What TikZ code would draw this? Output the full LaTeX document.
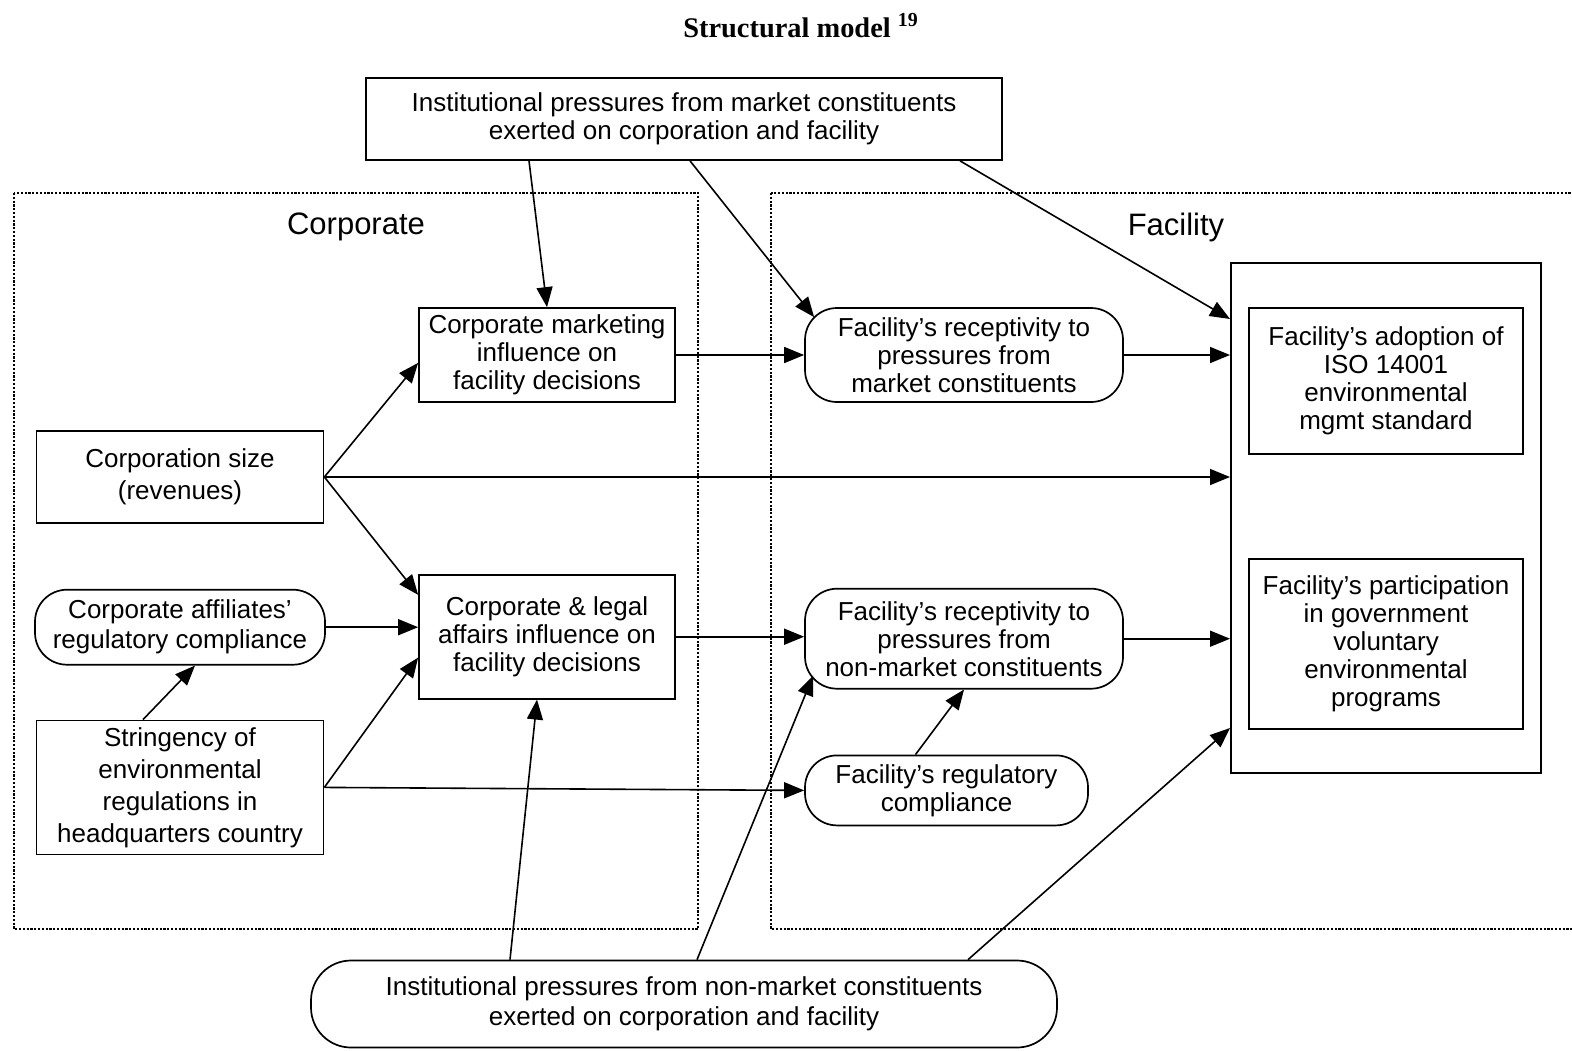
\documentclass[tikz,border=0pt]{standalone}
\usepackage{fontspec}
\setmainfont{Liberation Sans}
\newfontfamily\titlefont{Liberation Serif}
\usepackage{tikz}
\usetikzlibrary{positioning,arrows.meta,calc}
\tikzset{
  base/.style  ={draw, line width=0.85pt, align=center, inner sep=0pt,
                 font=\fontsize{13}{14}\selectfont, text=black},
  box/.style   ={base},
  pill/.style  ={base, rounded corners=16pt},
  loose/.style ={font=\fontsize{13}{16}\selectfont},
  arr/.style   ={-{Triangle[length=10pt,width=8pt]}, line width=0.8pt},
  zone/.style  ={line width=1.2pt, dash pattern=on 1.1pt off 0.8pt},
  ttl/.style   ={font=\titlefont\bfseries\fontsize{14.2}{16}\selectfont},
  lbl/.style   ={font=\fontsize{15.5}{17}\selectfont},
}

\begin{document}
\begin{tikzpicture}[x=0.5pt, y=-0.5pt]
  \useasboundingbox (0,0) rectangle (1572,1050);

  % ---- title ----
  \node[ttl, anchor=base] (title) at (801,37) {Structural model \textsuperscript{19}};

  % ---- dotted zones ----
  \draw[zone] (14,193) rectangle (698,929);
  \draw[zone] (771,193) rectangle (1590,929);
  \node[lbl] (corp) at (356,227) {Corporate};
  \node[lbl] (fac) at (1176,227) {Facility};

  % ---- institutional pressures ----
  \node[box, minimum width=318pt, minimum height=41pt] (mktp) at (684,119)
    {Institutional pressures from market constituents\\exerted on corporation and facility};
  \node[pill, rounded corners=20pt, minimum width=373pt, minimum height=43.5pt,
        font=\fontsize{13}{15}\selectfont] (nonp) at (684,1004)
    {Institutional pressures from non-market constituents\\exerted on corporation and facility};

  % ---- corporate side ----
  \node[box, loose, minimum width=143.5pt, minimum height=46pt] (csize) at (180,477)
    {Corporation size\\(revenues)};
  \node[pill, minimum width=145pt, minimum height=37.5pt,
        font=\fontsize{13}{15}\selectfont, below=32.5pt of csize] (caff)
    {Corporate affiliates’\\regulatory compliance};
  \node[box, loose, minimum width=143.5pt, minimum height=67pt, below=27pt of caff] (cstr)
    {Stringency of\\environmental\\regulations in\\headquarters country};

  \node[box, minimum width=128pt, minimum height=47pt] (cmkt) at (547,355)
    {Corporate marketing\\influence on\\facility decisions};
  \node[box, minimum width=128pt, minimum height=62pt, below=85.5pt of cmkt] (clegal)
    {Corporate \& legal\\affairs influence on\\facility decisions};

  % ---- facility side ----
  \node[pill, minimum width=159pt, minimum height=47pt] (frmkt) at (964,355)
    {Facility’s receptivity to\\pressures from\\market constituents};
  \node[pill, minimum width=159pt, minimum height=50pt, below=92.5pt of frmkt] (frnon)
    {Facility’s receptivity to\\pressures from\\non-market constituents};
  \node[pill, minimum width=141.5pt, minimum height=35pt,
        below=32.5pt of frnon.south west, anchor=north west] (freg)
    {Facility’s regulatory\\compliance};

  % ---- outcomes ----
  \node[box, line width=1pt, minimum width=155pt, minimum height=255pt] (outcome) at (1386,518) {};
  \node[box, minimum width=137pt, minimum height=73pt] (iso) at (1386,381)
    {Facility’s adoption of\\ISO 14001\\environmental\\mgmt standard};
  \node[box, minimum width=137pt, minimum height=85pt] (gov) at (1386,644)
    {Facility’s participation\\in government\\voluntary\\environmental\\programs};

  % ---- edges ----
  \draw[arr] ($(mktp.south)+(-155,0)$) -- (cmkt.north);
  \draw[arr] ($(mktp.south)+(6,0)$) -- ($(frmkt.north west)+(10,10)$);
  \draw[arr] ($(mktp.south)+(276,0)$) -- ($(outcome.north west)+(0,57)$);
  \draw[arr] (cmkt.east) -- (frmkt.west);
  \draw[arr] (frmkt.east) -- (frmkt.east -| outcome.west);
  \draw[arr] (csize.east) -- ($(cmkt.south west)+(0,-40)$);
  \draw[arr] (csize.east) -- (csize.east -| outcome.west);
  \draw[arr] (csize.east) -- ($(clegal.north west)+(0,21)$);
  \draw[arr] (caff.east) -- (caff.east -| clegal.west);
  \draw[arr] ($(cstr.north)+(-37,0)$) -- ($(caff.south)+(15,0)$);
  \draw[arr] (cstr.east) -- ($(clegal.south west)+(0,-42)$);
  \draw[arr] (cstr.east) -- (freg.west);
  \draw[arr] (clegal.east) -- (clegal.east -| frnon.west);
  \draw[arr] (frnon.east) -- (frnon.east -| outcome.west);
  \draw[arr] ($(freg.north)+(-31,0)$) -- (frnon.south);

  % non-market pressures reaching up
  \draw[arr] ($(nonp.north)+(-174,0)$) -- ($(clegal.south)+(-10,0)$);
  \draw[arr] ($(nonp.north)+(13,0)$) -- ($(frnon.south west)+(9,-14)$);
  \draw[arr] ($(nonp.north)+(284,0)$) -- ($(outcome.south west)+(0,-46)$);

\end{tikzpicture}
\end{document}
